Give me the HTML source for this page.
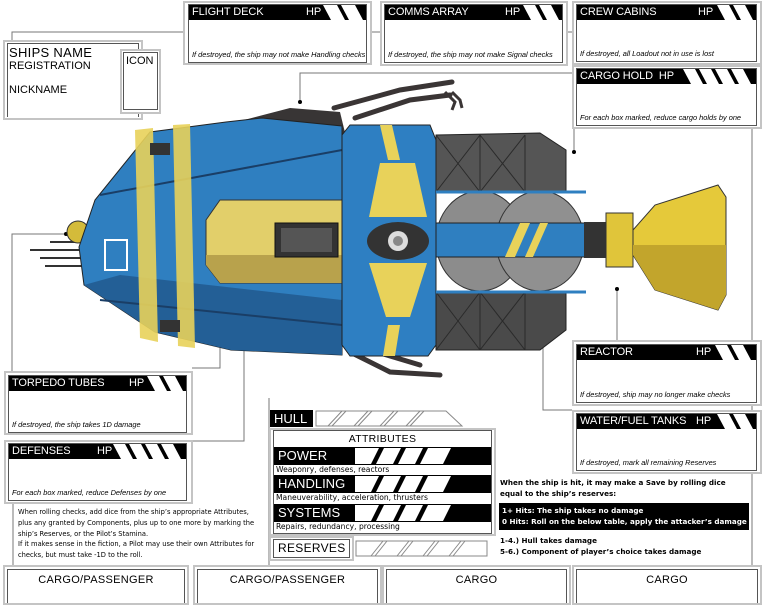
<!DOCTYPE html>
<html><head><meta charset="utf-8"><style>
*{box-sizing:border-box;margin:0;padding:0}
body{width:763px;height:605px;background:#fff;position:relative;overflow:hidden;font-family:"Liberation Sans",sans-serif;color:#000}
.o{position:absolute;border:2px solid #c4c4c4;background:#fff}
.i{position:absolute;border:1px solid #555;background:#fff}
.h{position:absolute;left:0;top:0;right:0;height:15px;background:#000;color:#fff;font-size:11px;line-height:15px;padding-left:3px;letter-spacing:-.1px;white-space:nowrap}
.h .hp{position:absolute;top:0}
.h svg{position:absolute;top:0}
.d{position:absolute;left:3px;bottom:3px;font-style:italic;font-size:7.4px;white-space:nowrap}
.a{position:absolute;left:0;right:0;height:18px;background:#000;color:#fff;font-size:13px;line-height:18px;padding-left:4px;letter-spacing:0}
.a svg{position:absolute;left:81px;top:0}
.ad{position:absolute;left:2px;font-family:"DejaVu Sans",sans-serif;font-size:7.6px;line-height:10px;white-space:nowrap}
.t{position:absolute;font-family:"DejaVu Sans",sans-serif;font-size:7px;line-height:10.8px;white-space:nowrap}
.cg{position:absolute;top:565px;height:40px;border:2px solid #c4c4c4;background:#fff}
.cg div{position:absolute;left:2px;right:2px;top:2px;bottom:0;border:1px solid #555;border-bottom:none;text-align:center;font-size:11px;padding-top:4px;letter-spacing:.3px}
</style></head><body>

<svg style="position:absolute;left:0;top:0" width="763" height="605">
<g stroke="#777" stroke-width="1" fill="none">
<polyline points="12,118 12,32 380,32"/>
<line x1="563" y1="32" x2="576" y2="32"/>
<polyline points="300,102 300,73 572,73"/>
<polyline points="574,152 574,128"/>
<line x1="752" y1="62" x2="752" y2="70"/>
<line x1="752" y1="126" x2="752" y2="565"/>
<polyline points="617,289 617,340"/>
<polyline points="543,277 543,410 572,410"/>
<polyline points="270,243 244,243 244,441 192,441"/>
<polyline points="220,277 220,368 192,368"/>
<polyline points="66,234 12,234 12,372"/>
<line x1="13" y1="458" x2="13" y2="565"/>
<line x1="269" y1="398" x2="269" y2="565"/>
<line x1="140" y1="112" x2="140" y2="120"/>
</g>
<g fill="#000">
<circle cx="300" cy="102" r="2"/><circle cx="574" cy="152" r="2"/><circle cx="617" cy="289" r="2"/>
<circle cx="543" cy="277" r="2"/><circle cx="270" cy="243" r="2"/><circle cx="220" cy="277" r="2"/><circle cx="66" cy="234" r="2"/>
</g>
<g stroke="#3a3535" stroke-width="5" fill="none" stroke-linecap="round">
<polyline points="334,108 400,90 452,82"/><polyline points="355,118 410,100 450,95"/>
<polyline points="350,352 390,372 440,375"/><polyline points="370,350 420,365"/>
</g>
<path d="M445,92 l10,10 -3,8 M452,92 l8,8 2,8" stroke="#3a3535" stroke-width="3" fill="none"/>
<g stroke="#333" stroke-width="2"><line x1="30" y1="250" x2="85" y2="250"/><line x1="40" y1="258" x2="85" y2="258"/><line x1="45" y1="266" x2="85" y2="266"/><line x1="50" y1="242" x2="85" y2="242"/></g>
<circle cx="78" cy="232" r="11" fill="#d4bb3a" stroke="#333"/>
<polygon points="225,125 290,108 340,112 348,145 230,155" fill="#383535"/>
<polygon points="79,247 95,200 150,132 226,122 262,118 342,126 342,355 231,350 155,332 84,285" fill="#2f7fc0" stroke="#222"/>
<polygon points="84,285 120,275 342,300 342,355 231,350 155,332" fill="#235f96"/>
<line x1="100" y1="195" x2="342" y2="150" stroke="#1a3e66" stroke-width="2"/>
<line x1="100" y1="300" x2="342" y2="325" stroke="#1a3e66" stroke-width="2"/>
<polygon points="135,130 153,128 158,342 140,338" fill="#e8d25a" opacity=".9"/>
<polygon points="173,125 190,124 195,348 178,346" fill="#e8d25a" opacity=".9"/>
<polygon points="206,220 220,200 351,200 351,283 220,283 206,265" fill="#e2cf6a" stroke="#333"/>
<polygon points="206,255 351,255 351,283 220,283 206,265" fill="#b8a24c"/>
<rect x="275" y="223" width="63" height="34" fill="#333" stroke="#111"/>
<rect x="281" y="228" width="51" height="24" fill="#555"/>
<rect x="105" y="240" width="22" height="30" fill="none" stroke="#fff" stroke-width="2"/>
<rect x="160" y="320" width="20" height="12" fill="#333"/><rect x="150" y="143" width="20" height="12" fill="#333"/>
<polygon points="342,135 350,125 430,125 436,140 436,345 428,356 350,356 342,345" fill="#2e7fc2" stroke="#222"/>
<polygon points="380,125 392,125 400,160 388,160" fill="#e8d25a"/>
<polygon points="388,325 400,325 395,356 383,356" fill="#e8d25a"/>
<polygon points="380,163 415,163 427,217 369,217" fill="#e8d25a"/>
<polygon points="369,263 427,263 410,317 386,317" fill="#e8d25a"/>
<ellipse cx="398" cy="241" rx="31" ry="19" fill="#333"/>
<circle cx="398" cy="241" r="10" fill="#ddd"/><circle cx="398" cy="241" r="5" fill="#888"/>
<polygon points="436,135 540,133 566,150 566,192 436,192" fill="#555" stroke="#222"/>
<polygon points="436,292 566,292 566,330 540,350 436,350" fill="#4a4a4a" stroke="#222"/>
<g stroke="#2a2a2a"><line x1="480" y1="135" x2="480" y2="192"/><line x1="525" y1="135" x2="525" y2="192"/><line x1="480" y1="292" x2="480" y2="350"/><line x1="525" y1="292" x2="525" y2="350"/>
<line x1="436" y1="135" x2="480" y2="192"/><line x1="480" y1="135" x2="436" y2="192"/><line x1="480" y1="135" x2="525" y2="192"/><line x1="525" y1="135" x2="480" y2="192"/>
<line x1="436" y1="292" x2="480" y2="350"/><line x1="480" y1="292" x2="436" y2="350"/><line x1="480" y1="292" x2="525" y2="350"/><line x1="525" y1="292" x2="480" y2="350"/></g>
<ellipse cx="480" cy="241" rx="44" ry="50" fill="#8c8c8c" stroke="#333"/>
<ellipse cx="540" cy="241" rx="44" ry="50" fill="#909090" stroke="#333"/>
<rect x="436" y="223" width="150" height="34" fill="#2f7fc0" stroke="#222"/>
<polygon points="505,257 520,223 530,223 515,257" fill="#e8d25a"/><polygon points="525,257 540,223 548,223 533,257" fill="#e8d25a"/>
<line x1="436" y1="192" x2="586" y2="192" stroke="#2f7fc0" stroke-width="3"/><line x1="436" y1="292" x2="586" y2="292" stroke="#2f7fc0" stroke-width="3"/>
<rect x="584" y="222" width="24" height="36" fill="#333"/>
<rect x="606" y="213" width="27" height="54" fill="#e0c53a" stroke="#333"/>
<polygon points="633,230 655,205 718,185 726,197 726,295 718,310 655,290 633,255" fill="#e5c93a" stroke="#333"/>
<polygon points="633,245 726,245 726,295 718,310 655,290 633,255" fill="#c2a52c"/>
</svg>

<div class="o" style="left:3px;top:40px;width:140px;height:80px"></div>
<div class="i" style="left:7px;top:43px;width:132px;height:74px;border-bottom:none"></div>
<div style="position:absolute;left:9px;top:45px;font-size:13px;letter-spacing:.3px">SHIPS NAME</div>
<div style="position:absolute;left:9px;top:60px;font-size:11px">REGISTRATION</div>
<div style="position:absolute;left:9px;top:84px;font-size:11px">NICKNAME</div>
<div class="o" style="left:120px;top:49px;width:41px;height:65px"></div>
<div class="i" style="left:123px;top:52px;width:35px;height:58px"></div>
<div style="position:absolute;left:126px;top:55px;font-size:11px">ICON</div>

<div class="o" style="left:183px;top:1px;width:189px;height:64px"></div>
<div class="i" style="left:188px;top:4px;width:179px;height:59px"><div class="h">FLIGHT DECK<span class="hp" style="left:117px">HP</span><svg style="left:132px" width="46" height="15"><polygon points="2,0 16,0 24,15 10,15" fill="#fff"/><polygon points="20,0 34,0 42,15 28,15" fill="#fff"/></svg></div><div class="d">If destroyed, the ship may not make Handling checks</div></div>
<div class="o" style="left:380px;top:1px;width:188px;height:65px"></div>
<div class="i" style="left:384px;top:4px;width:179px;height:59px"><div class="h">COMMS ARRAY<span class="hp" style="left:120px">HP</span><svg style="left:136px" width="42" height="15"><polygon points="2,0 14,0 22,15 10,15" fill="#fff"/><polygon points="18,0 30,0 38,15 26,15" fill="#fff"/></svg></div><div class="d">If destroyed, the ship may not make Signal checks</div></div>
<div class="o" style="left:572px;top:1px;width:190px;height:64px"></div>
<div class="i" style="left:576px;top:4px;width:181px;height:58px"><div class="h">CREW CABINS<span class="hp" style="left:121px">HP</span><svg style="left:138px" width="42" height="15"><polygon points="2,0 14,0 22,15 10,15" fill="#fff"/><polygon points="18,0 30,0 38,15 26,15" fill="#fff"/></svg></div><div class="d">If destroyed, all Loadout not in use is lost</div></div>
<div class="o" style="left:572px;top:65px;width:190px;height:64px"></div>
<div class="i" style="left:576px;top:68px;width:181px;height:58px"><div class="h">CARGO HOLD&nbsp; HP<svg style="left:104px" width="76" height="15"><polygon points="2,0 14,0 22,15 10,15" fill="#fff"/><polygon points="18,0 30,0 38,15 26,15" fill="#fff"/><polygon points="34,0 46,0 54,15 42,15" fill="#fff"/><polygon points="50,0 62,0 70,15 58,15" fill="#fff"/></svg></div><div class="d">For each box marked, reduce cargo holds by one</div></div>
<div class="o" style="left:4px;top:371px;width:189px;height:64px"></div>
<div class="i" style="left:8px;top:375px;width:179px;height:58px"><div class="h">TORPEDO TUBES<span class="hp" style="left:120px">HP</span><svg style="left:136px" width="42" height="15"><polygon points="2,0 14,0 22,15 10,15" fill="#fff"/><polygon points="18,0 30,0 38,15 26,15" fill="#fff"/></svg></div><div class="d">If destroyed, the ship takes 1D damage</div></div>
<div class="o" style="left:4px;top:440px;width:189px;height:64px"></div>
<div class="i" style="left:8px;top:443px;width:179px;height:58px"><div class="h">DEFENSES<span class="hp" style="left:88px">HP</span><svg style="left:102px" width="76" height="15"><polygon points="2,0 14,0 22,15 10,15" fill="#fff"/><polygon points="18,0 30,0 38,15 26,15" fill="#fff"/><polygon points="34,0 46,0 54,15 42,15" fill="#fff"/><polygon points="50,0 62,0 70,15 58,15" fill="#fff"/></svg></div><div class="d">For each box marked, reduce Defenses by one</div></div>
<div class="o" style="left:572px;top:340px;width:190px;height:66px"></div>
<div class="i" style="left:576px;top:344px;width:181px;height:59px"><div class="h">REACTOR<span class="hp" style="left:119px">HP</span><svg style="left:136px" width="44" height="15"><polygon points="2,0 14,0 22,15 10,15" fill="#fff"/><polygon points="18,0 30,0 38,15 26,15" fill="#fff"/></svg></div><div class="d">If destroyed, ship may no longer make checks</div></div>
<div class="o" style="left:572px;top:410px;width:190px;height:64px"></div>
<div class="i" style="left:576px;top:413px;width:181px;height:58px"><div class="h">WATER/FUEL TANKS<span class="hp" style="left:119px">HP</span><svg style="left:138px" width="42" height="15"><polygon points="2,0 14,0 22,15 10,15" fill="#fff"/><polygon points="18,0 30,0 38,15 26,15" fill="#fff"/></svg></div><div class="d">If destroyed, mark all remaining Reserves</div></div>

<div style="position:absolute;left:270px;top:410px;width:43px;height:17px;background:#000;color:#fff;font-size:13px;line-height:17px;padding-left:4px">HULL</div>
<svg style="position:absolute;left:314px;top:410px" width="155" height="17"><g fill="none" stroke="#888"><polygon points="2,1 132,1 148,16 2,16"/><line x1="28" y1="1" x2="14" y2="16"/><line x1="32" y1="1" x2="18" y2="16"/><line x1="54" y1="1" x2="40" y2="16"/><line x1="58" y1="1" x2="44" y2="16"/><line x1="80" y1="1" x2="66" y2="16"/><line x1="84" y1="1" x2="70" y2="16"/><line x1="106" y1="1" x2="92" y2="16"/><line x1="110" y1="1" x2="96" y2="16"/></g></svg>

<div class="o" style="left:269px;top:428px;width:227px;height:108px"></div>
<div class="i" style="left:273px;top:430px;width:219px;height:104px">
<div style="position:absolute;left:0;right:0;top:2px;text-align:center;font-size:10.5px;letter-spacing:.3px">ATTRIBUTES</div>
<div class="a" style="top:16px">POWER<svg width="100" height="18"><polygon points="0,1 24,1 16,17 0,17" fill="#fff"/><polygon points="29,1 46,1 38,17 21,17" fill="#fff"/><polygon points="51,1 68,1 60,17 43,17" fill="#fff"/><polygon points="73,1 96,1 88,17 65,17" fill="#fff"/></svg></div>
<div class="ad" style="top:34px">Weaponry, defenses, reactors</div>
<div class="a" style="top:44px">HANDLING<svg width="100" height="18"><polygon points="0,1 24,1 16,17 0,17" fill="#fff"/><polygon points="29,1 46,1 38,17 21,17" fill="#fff"/><polygon points="51,1 68,1 60,17 43,17" fill="#fff"/><polygon points="73,1 96,1 88,17 65,17" fill="#fff"/></svg></div>
<div class="ad" style="top:62px">Maneuverability, acceleration, thrusters</div>
<div class="a" style="top:73px">SYSTEMS<svg width="100" height="18"><polygon points="0,1 24,1 16,17 0,17" fill="#fff"/><polygon points="29,1 46,1 38,17 21,17" fill="#fff"/><polygon points="51,1 68,1 60,17 43,17" fill="#fff"/><polygon points="73,1 96,1 88,17 65,17" fill="#fff"/></svg></div>
<div class="ad" style="top:91px">Repairs, redundancy, processing</div>
</div>

<div class="o" style="left:269px;top:536px;width:85px;height:25px"></div>
<div class="i" style="left:273px;top:539px;width:77px;height:19px;font-size:12px;line-height:17px;padding-left:4px;letter-spacing:.3px">RESERVES</div>
<svg style="position:absolute;left:355px;top:540px" width="135" height="18"><g fill="none" stroke="#888"><rect x="1" y="1" width="131" height="15"/><line x1="28" y1="1" x2="16" y2="16"/><line x1="32" y1="1" x2="20" y2="16"/><line x1="54" y1="1" x2="42" y2="16"/><line x1="58" y1="1" x2="46" y2="16"/><line x1="80" y1="1" x2="68" y2="16"/><line x1="84" y1="1" x2="72" y2="16"/><line x1="106" y1="1" x2="94" y2="16"/><line x1="110" y1="1" x2="98" y2="16"/></g></svg>

<div class="t" style="left:500px;top:478px;font-weight:bold;font-size:7.2px">When the ship is hit, it may make a Save by rolling dice<br>equal to the ship’s reserves:</div>
<div class="t" style="left:499px;top:503px;width:250px;height:27px;background:#000;color:#fff;padding:2px 0 0 3px;font-weight:bold;font-size:7.2px;line-height:11px">1+ Hits: The ship takes no damage<br>0 Hits: Roll on the below table, apply the attacker’s damage</div>
<div class="t" style="left:500px;top:535px;font-weight:bold;font-size:7.2px;line-height:11px">1-4.) Hull takes damage<br>5-6.) Component of player’s choice takes damage</div>

<div class="t" style="left:18px;top:507px;font-size:6.7px">When rolling checks, add dice from the ship’s appropriate Attributes,<br>plus any granted by Components, plus up to one more by marking the<br>ship’s Reserves, or the Pilot’s Stamina.<br>If it makes sense in the fiction, a Pilot may use their own Attributes for<br>checks, but must take -1D to the roll.</div>

<div class="cg" style="left:3px;width:186px"><div>CARGO/PASSENGER</div></div>
<div class="cg" style="left:193px;width:189px"><div>CARGO/PASSENGER</div></div>
<div class="cg" style="left:382px;width:189px"><div>CARGO</div></div>
<div class="cg" style="left:572px;width:190px"><div>CARGO</div></div>
</body></html>
